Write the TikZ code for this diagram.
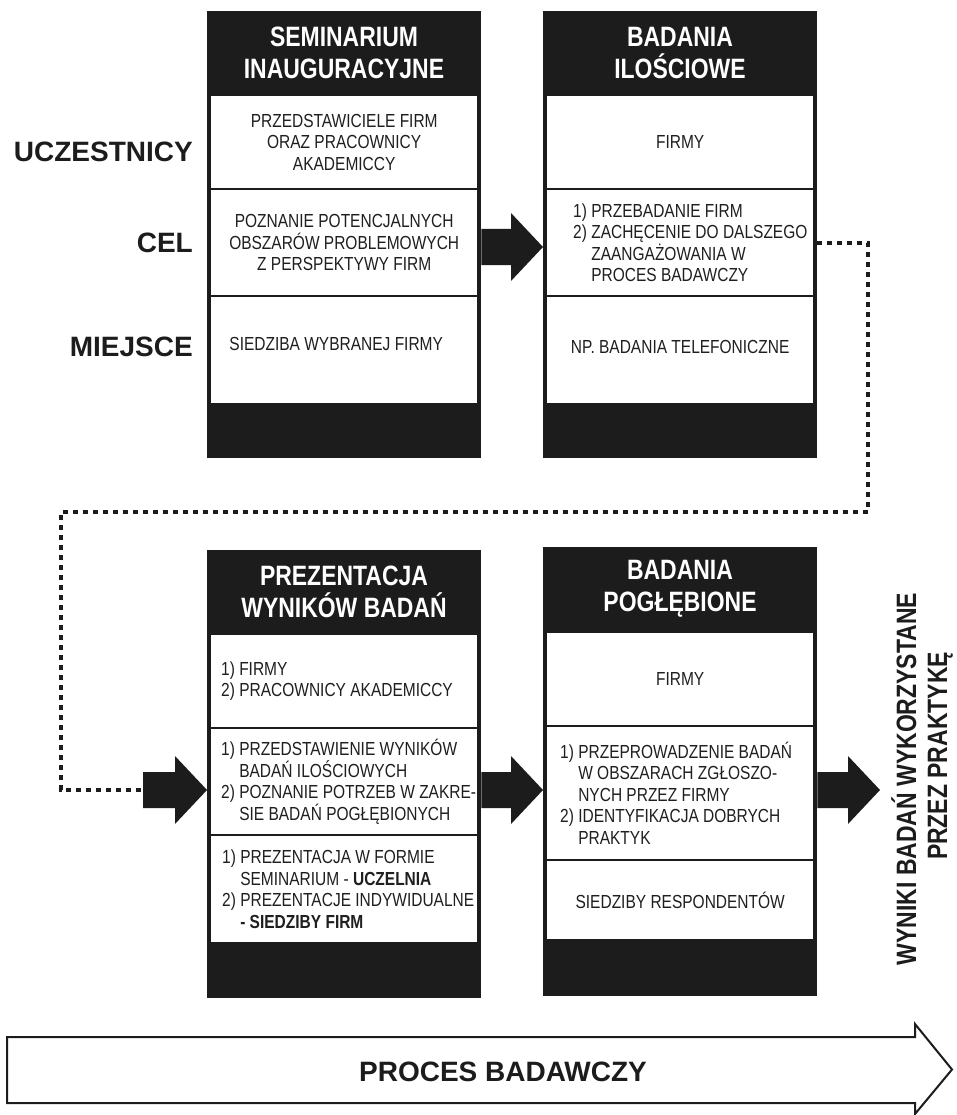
\documentclass[tikz,border=0pt]{standalone}
\usepackage{fontspec}
\setmainfont{Liberation Sans}[FakeStretch=0.82]
\newfontfamily\widefont{Liberation Sans}
\usetikzlibrary{calc}

\definecolor{ink}{HTML}{1C1C1C}
\definecolor{txt}{HTML}{1F1F1F}

\newcommand\cellfnt{\fontsize{18.9pt}{21.5pt}\selectfont}
\newcommand\headfnt{\fontsize{28pt}{32pt}\selectfont\bfseries}
\newcommand\sidefnt{\widefont\fontsize{28pt}{30pt}\selectfont\bfseries}
\newcommand\procfnt{\widefont\fontsize{28pt}{32pt}\selectfont\bfseries}

% filled block arrow: #1 start of the shaft, #2 tip (same height)
\newcommand\blockarrow[2]{%
  \fill[ink] let \p1=(#1), \p2=(#2) in
    (\x1,\y1+18pt) -- (\x2-32pt,\y1+18pt) -- (\x2-32pt,\y1+34pt) -- (\x2,\y1)
    -- (\x2-32pt,\y1-34pt) -- (\x2-32pt,\y1-18pt) -- (\x1,\y1-18pt) -- cycle;}

\tikzset{
  frame/.style={fill=ink, draw=none, inner sep=0pt, minimum width=274pt, anchor=north west},
  cell/.style={fill=white, draw=none, inner sep=0pt, minimum width=266pt,
    anchor=north west, align=center, text=txt, font=\cellfnt},
  head/.style={text=white, align=center, inner sep=0pt, font=\headfnt},
  list/.style={anchor=west, align=left, inner sep=0pt, text=txt, font=\cellfnt},
  plain/.style={inner sep=0pt, text=txt, font=\cellfnt},
  side/.style={anchor=east, inner sep=0pt, text=ink, font=\sidefnt},
  rot/.style={rotate=90, anchor=base, inner sep=0pt, text=ink, font=\headfnt},
  dotline/.style={draw=ink, line width=4pt, dash pattern=on 5pt off 5pt},
  bigarrow/.style={draw=ink, fill=white, line width=2pt, line join=miter},
}

\begin{document}
\begin{tikzpicture}[x=1pt, y=-1pt]
\fill[white] (0,0) rectangle (956,1115);
\useasboundingbox (0,0) rectangle (956,1115);

% row labels
\node[side] (l1) at (193,152) {UCZESTNICY};
\node[side] (l2) at (193,243) {CEL};
\node[side] (l3) at (193,347) {MIEJSCE};

% stage 1
\node[frame, minimum height=447pt] (b1) at (207,11) {};
\node[head] (h1) at (344,53) {SEMINARIUM\\INAUGURACYJNE};
\node[cell, minimum height=92pt] (r11) at (211,96) {PRZEDSTAWICIELE FIRM\\ORAZ PRACOWNICY\\AKADEMICCY};
\node[cell, minimum height=105pt] (r12) at (211,190) {POZNANIE POTENCJALNYCH\\OBSZARÓW PROBLEMOWYCH\\Z PERSPEKTYWY FIRM};
\node[cell, minimum height=106pt] (r13) at (211,297) {};
\node[plain] (t13) at ($(r13.center)+(-8,-6)$) {SIEDZIBA WYBRANEJ FIRMY};

% stage 2
\node[frame, minimum height=447pt] (b2) at (543,11) {};
\node[head] (h2) at (680,53) {BADANIA\\ILOŚCIOWE};
\node[cell, minimum height=92pt] (r21) at (547,96) {FIRMY};
\node[cell, minimum height=105pt] (r22) at (547,190) {};
\node[list] (t22) at ($(r22.west)+(26,0)$) {1) PRZEBADANIE FIRM\\2) ZACHĘCENIE DO DALSZEGO\\\hphantom{2) }ZAANGAŻOWANIA W\\\hphantom{2) }PROCES BADAWCZY};
\node[cell, minimum height=106pt] (r23) at (547,297) {};
\node[plain] (t23) at ($(r23.center)+(0,-3)$) {NP. BADANIA TELEFONICZNE};

% stage 3
\node[frame, minimum height=448pt] (b3) at (207,550) {};
\node[head] (h3) at (344,591.5) {PREZENTACJA\\WYNIKÓW BADAŃ};
\node[cell, minimum height=92pt] (r31) at (211,635) {};
\node[list] (t31) at ($(r31.west)+(10,0)$) {1) FIRMY\\2) PRACOWNICY AKADEMICCY};
\node[cell, minimum height=105pt] (r32) at (211,729) {};
\node[list] (t32) at ($(r32.west)+(10,0)$) {1) PRZEDSTAWIENIE WYNIKÓW\\\hphantom{1) }BADAŃ ILOŚCIOWYCH\\2) POZNANIE POTRZEB W ZAKRE-\\\hphantom{2) }SIE BADAŃ POGŁĘBIONYCH};
\node[cell, minimum height=106pt] (r33) at (211,836) {};
\node[list] (t33) at ($(r33.west)+(11,0)$) {1) PREZENTACJA W FORMIE\\\hphantom{1) }SEMINARIUM - \textbf{UCZELNIA}\\2) PREZENTACJE INDYWIDUALNE\\\hphantom{2) }\textbf{- SIEDZIBY FIRM}};

% stage 4
\node[frame, minimum height=449pt] (b4) at (543,547) {};
\node[head] (h4) at (680,589) {BADANIA\\POGŁĘBIONE};
\node[cell, minimum height=92pt] (r41) at (547,633) {FIRMY};
\node[cell, minimum height=132pt] (r42) at (547,727) {};
\node[list] (t42) at ($(r42.west)+(13,0)$) {1) PRZEPROWADZENIE BADAŃ\\\hphantom{1) }W OBSZARACH ZGŁOSZO-\\\hphantom{1) }NYCH PRZEZ FIRMY\\2) IDENTYFIKACJA DOBRYCH\\\hphantom{2) }PRAKTYK};
\node[cell, minimum height=78pt] (r43) at (547,861) {SIEDZIBY RESPONDENTÓW};

% outcome label, read from bottom to top
\node[rot] (w1) at (916,779) {WYNIKI BADAŃ WYKORZYSTANE};
\node[rot] (w2) at (947,756) {PRZEZ PRAKTYKĘ};

% block arrows between stages
\coordinate (a1s) at (b1.east |- 0,247);
\coordinate (a1t) at (b2.west |- a1s);
\blockarrow{a1s}{a1t}

\coordinate (a3s) at (143,790);
\coordinate (a3t) at (b3.west |- a3s);
\blockarrow{a3s}{a3t}

\coordinate (a4s) at (b3.east |- a3s);
\coordinate (a4t) at (b4.west |- a3s);
\blockarrow{a4s}{a4t}

\coordinate (a5s) at (b4.east |- a3s);
\coordinate (a5t) at (880,790);
\blockarrow{a5s}{a5t}

% dotted return line from stage 2 to stage 3
\coordinate (loopR) at (868,512);
\coordinate (loopL) at (61,512);
\draw[dotline] (r22.east -| b2.east) -| (loopR) -- (loopL) |- (a3s);

% process arrow
\draw[bigarrow] (7,1037) -- (915,1037) -- (915,1024) -- (952,1069.5) -- (915,1114)
  -- (915,1103) -- (7,1103) -- cycle;
\node[inner sep=0pt, text=ink, font=\procfnt] (proc) at (503,1072) {PROCES BADAWCZY};
\end{tikzpicture}
\end{document}
